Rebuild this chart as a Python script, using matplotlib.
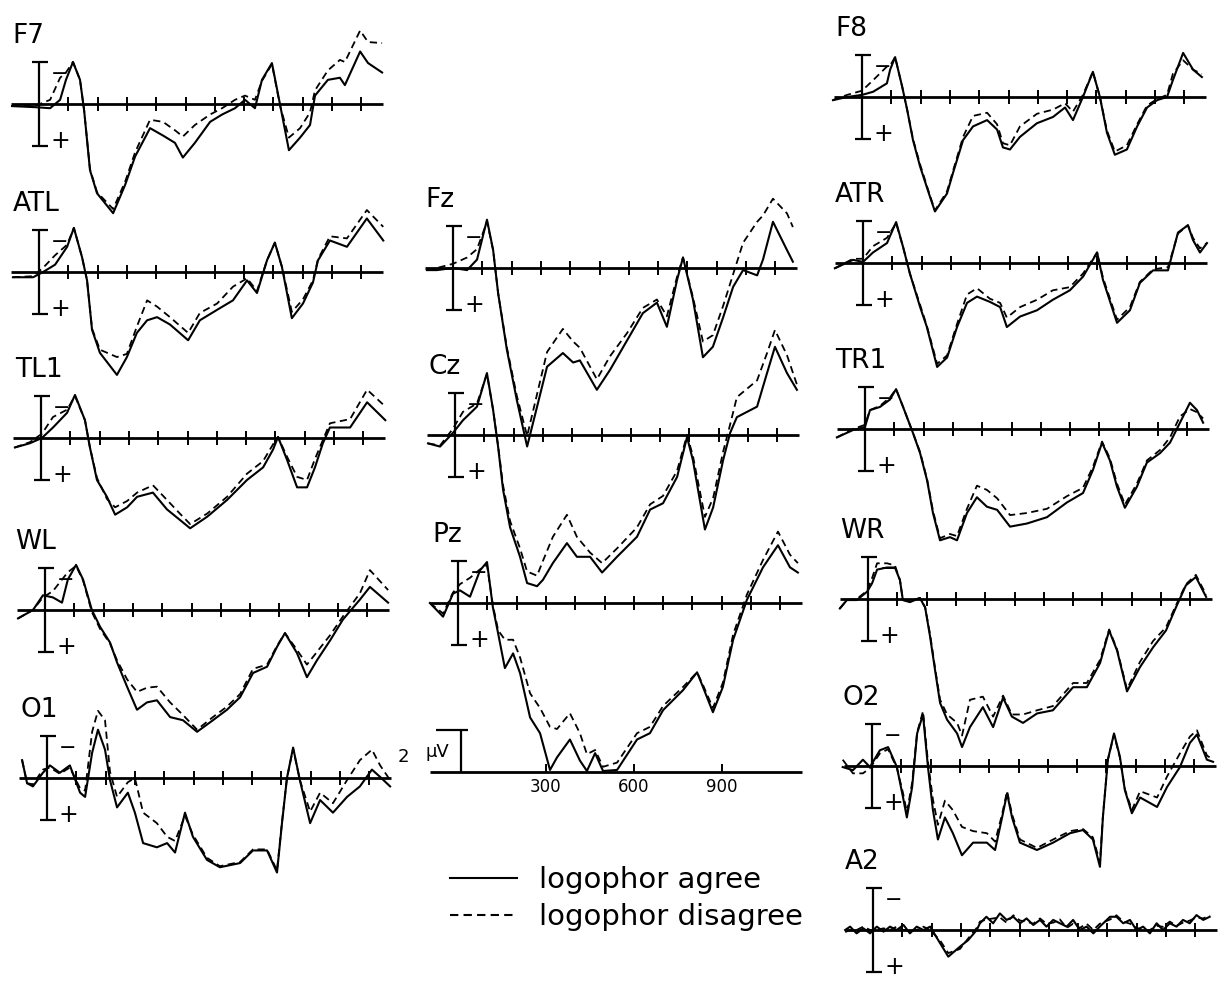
import matplotlib
matplotlib.use("Agg")
import matplotlib.pyplot as plt
from matplotlib.lines import Line2D

# figure geometry (pixels) and the common ERP scale
W, H = 1219, 981
PX_PER_MS = 0.293
PX_PER_UV = 21.0
T_MIN, T_MAX = -100, 1180
V_TOP, V_BOTTOM = -6.5, 9.5          # negative is plotted up
AXIS_START, AXIS_END = -95, 1175

tick_times = [100, 200, 300, 400, 500, 600, 700, 800, 900, 1000, 1100]
scale_ticks = [300, 600, 900]
scale_labels = ["300", "600", "900"]
legend_labels = ["logophor agree", "logophor disagree"]

# ---- left column ----
F7_t = [-92, -14, 38, 72, 92, 116, 140, 154, 174, 198, 253, 294, 328, 379, 423, 464, 491, 532,
        584, 625, 669, 703, 737, 761, 795, 823, 853, 891, 925, 942, 986, 1027, 1044, 1096, 1123, 1171]
F7_agree = [0.1, 0.15, 0.2, -0.2, -1.15, -2.0, -1.15, 0.3, 3.15, 4.25, 5.2, 3.85, 2.5, 1.15, 1.5, 1.85,
            2.55, 1.85, 0.85, 0.5, 0.2, -0.2, 0.2, -1.15, -1.95, 0.05, 2.2, 1.6, 1.0, -0.4, -1.15, -1.25,
            -0.9, -2.5, -1.95, -1.5]
F7_disagree = [0.1, 0.1, -0.2, -1.25, -1.5, -2.0, -1.15, 0.3, 3.1, 4.2, 5.0, 3.7, 2.3, 0.75, 0.85, 1.25,
               1.55, 1.0, 0.5, 0.2, -0.2, -0.4, -0.2, -1.1, -1.9, 0.1, 1.6, 1.15, 0.4, -0.65, -1.6, -2.1,
               -2.0, -3.5, -2.95, -2.9]

ATL_t = [-89, -20, 14, 55, 96, 119, 147, 164, 181, 208, 266, 300, 334, 369, 403, 447, 509, 549, 608,
         662, 710, 744, 778, 805, 829, 863, 901, 935, 952, 993, 1051, 1119, 1175]
ATL_agree = [0.25, 0.25, 0, -0.35, -1.2, -2.1, -0.7, 0.4, 2.75, 3.85, 4.9, 4.05, 2.9, 2.3, 2.15, 2.5,
             3.25, 2.3, 1.8, 1.35, 0.4, 1.0, -0.55, -1.4, -0.25, 2.2, 1.5, 0.5, -0.55, -1.5, -1.2, -2.55, -1.5]
ATL_disagree = [0.25, 0.2, -0.2, -0.8, -1.3, -2.1, -0.7, 0.4, 2.7, 3.7, 4.05, 3.9, 2.6, 1.35, 1.65, 2.15,
                2.9, 1.95, 1.5, 0.7, 0.3, 0.9, -0.55, -1.4, -0.25, 1.9, 1.3, 0.4, -0.6, -1.7, -1.6, -2.95, -2.15]

TL1_t = [-89, -38, 3, 41, 89, 116, 150, 167, 191, 225, 253, 294, 328, 382, 430, 474, 509, 567, 635,
         703, 758, 792, 809, 840, 874, 908, 935, 962, 986, 1055, 1113, 1175]
TL1_agree = [0.45, 0.25, 0, -0.5, -1.2, -2.05, -0.85, 0.45, 2.0, 2.8, 3.65, 3.3, 2.8, 2.6, 3.4, 3.9,
             4.3, 3.75, 2.95, 2.0, 1.4, 0.55, -0.05, 1.05, 2.35, 2.35, 1.4, 0.25, -0.5, -0.5, -1.7, -0.85]
TL1_disagree = [0.45, 0.2, -0.2, -1.0, -1.35, -2.0, -0.85, 0.45, 1.9, 2.9, 3.3, 3.0, 2.6, 2.25, 2.95, 3.6,
                4.1, 3.6, 2.8, 1.7, 1.1, 0.3, -0.05, 0.9, 1.85, 2.0, 1.0, 0.1, -0.7, -0.9, -2.3, -1.5]

WL_t = [-92, -41, -7, 27, 58, 78, 106, 130, 160, 188, 222, 246, 280, 314, 348, 382, 427, 471, 519,
        573, 621, 666, 710, 758, 792, 819, 860, 894, 928, 973, 1017, 1075, 1109, 1171]
WL_agree = [0.4, 0, -0.7, -0.6, -0.35, -1.45, -2.15, -1.45, 0, 0.8, 1.55, 2.5, 3.65, 4.75, 4.4, 4.3,
            5.1, 5.25, 5.8, 5.25, 4.75, 4.15, 3.0, 2.7, 1.75, 1.1, 2.05, 3.2, 2.4, 1.45, 0.45, -0.5, -1.1, -0.35]
WL_disagree = [0.4, 0, -0.6, -0.9, -1.45, -1.8, -2.1, -1.4, 0.1, 0.9, 1.6, 2.4, 3.3, 3.9, 3.7, 3.65,
               4.4, 5.0, 5.7, 5.1, 4.6, 4.0, 2.8, 2.6, 1.7, 1.1, 1.9, 2.6, 2.0, 1.2, 0.3, -0.8, -1.9, -0.95]

O1_t = [-85, -68, -48, -14, 10, 44, 78, 113, 130, 154, 174, 198, 215, 239, 276, 300, 328, 375, 410,
        437, 471, 498, 546, 590, 659, 703, 751, 785, 802, 819, 840, 863, 898, 932, 976, 1024, 1068,
        1109, 1137, 1171]
O1_agree = [-0.85, 0.25, 0.4, -0.25, -0.6, -0.25, -0.6, 0.7, 0.9, -1.2, -2.3, -1.35, 0.1, 1.4, 0.7,
            1.65, 3.1, 3.3, 3.1, 3.55, 1.65, 2.8, 3.9, 4.25, 4.05, 3.45, 3.45, 4.5, 2.15, 0, -1.45, 0.1,
            2.15, 1.05, 1.65, 0.9, 0.4, -0.4, -0.05, 0.4]
O1_disagree = [-0.85, 0.25, 0.3, -0.4, -0.5, -0.2, -0.5, 0.5, 0.6, -2.2, -3.2, -2.75, -0.3, 0.9, 0.2,
               0.0, 1.65, 2.15, 2.8, 3.0, 1.8, 2.7, 3.8, 4.2, 4.0, 3.4, 3.4, 4.4, 2.1, 0, -1.4, 0.1,
               1.6, 0.7, 1.2, 0.1, -0.85, -1.35, -0.6, 0.1]

# ---- middle column ----
Fz_t = [-89, -55, 0, 48, 82, 116, 137, 154, 184, 218, 253, 287, 321, 375, 410, 433, 491, 536, 594,
        648, 696, 730, 765, 785, 819, 853, 887, 922, 956, 990, 1038, 1058, 1092, 1140, 1160]
Fz_agree = [0.1, 0.1, 0, 0.1, -0.4, -2.3, -0.85, 1.2, 3.9, 6.3, 8.5, 6.6, 4.7, 4.05, 4.5, 4.4, 5.8,
            4.85, 3.45, 2.15, 1.65, 2.8, 0.55, -0.5, 1.5, 4.25, 3.75, 2.35, 0.9, 0.1, 0.35, -0.4, -2.2, -0.85, -0.3]
Fz_disagree = [0.1, 0.0, -0.2, -0.5, -0.9, -2.2, -0.85, 1.2, 3.8, 6.1, 8.0, 6.0, 4.0, 2.9, 3.5, 3.8, 5.3,
               4.2, 3.1, 1.9, 1.5, 2.3, 0.4, -0.5, 1.4, 3.5, 3.2, 1.8, 0.3, -1.2, -2.2, -2.5, -3.3, -2.6, -1.95]

Cz_t = [-92, -51, -7, 27, 75, 109, 130, 147, 164, 188, 222, 246, 280, 300, 334, 382, 416, 461, 502,
        553, 621, 666, 710, 758, 792, 812, 853, 881, 915, 939, 962, 1031, 1065, 1092, 1133, 1167]
Cz_agree = [0.4, 0.55, -0.1, -0.7, -1.35, -2.95, -1.2, 0.55, 2.6, 4.4, 5.8, 7.05, 7.2, 6.9, 6.1, 5.15,
            5.8, 5.8, 6.55, 5.8, 4.85, 3.55, 3.25, 2.0, 0.1, 1.2, 4.5, 3.45, 1.2, -0.1, -0.85, -1.35,
            -2.95, -4.2, -2.95, -2.15]
Cz_disagree = [0.4, 0.5, -0.3, -1.1, -1.5, -2.9, -1.2, 0.5, 2.4, 4.1, 5.4, 6.5, 6.7, 6.0, 4.85, 3.8,
               4.85, 5.6, 6.1, 5.4, 4.4, 3.3, 2.9, 1.7, 0.0, 1.0, 3.9, 3.0, 0.8, -0.5, -1.8, -2.6,
               -3.9, -5.0, -3.8, -2.4]

Pz_t = [-96, -51, -17, 7, 41, 75, 99, 119, 137, 160, 188, 212, 246, 280, 314, 338, 382, 416, 440,
        468, 495, 543, 611, 655, 700, 768, 816, 836, 870, 904, 939, 986, 1041, 1092, 1133, 1160]
Pz_agree = [0, 0.65, -0.45, -0.6, -0.3, -1.55, -1.95, 0.2, 1.45, 3.1, 2.4, 3.35, 5.45, 6.2, 7.95, 7.35,
            6.5, 7.5, 8.0, 7.15, 8.0, 7.95, 6.5, 6.2, 5.1, 4.15, 3.3, 4.0, 5.2, 4.0, 1.75, -0.15, -1.7,
            -2.75, -1.7, -1.45]
Pz_disagree = [0, 0.5, -0.5, -0.9, -1.2, -1.6, -1.8, 0.1, 1.3, 1.75, 1.75, 2.6, 4.3, 5.0, 5.9, 6.0,
               5.25, 6.2, 7.2, 7.0, 7.8, 7.6, 6.2, 5.9, 4.9, 4.0, 3.3, 3.9, 5.0, 3.8, 1.5, -0.4, -2.05,
               -3.4, -2.3, -1.9]

# ---- right column ----
F8_t = [-99, -51, 0, 38, 85, 96, 113, 137, 154, 174, 198, 232, 249, 290, 311, 345, 379, 427, 461, 481,
        505, 539, 597, 652, 693, 720, 754, 788, 812, 836, 863, 904, 939, 973, 1007, 1041, 1061, 1096,
        1130, 1160]
F8_agree = [0.15, 0, -0.1, -0.25, -0.65, -1.3, -1.9, -0.5, 0.6, 2.05, 3.3, 4.75, 5.45, 4.6, 3.6, 2.05,
            1.4, 1.1, 1.55, 2.4, 2.5, 1.9, 1.25, 0.95, 0.5, 1.1, 0, -1.2, 0, 1.7, 2.75, 2.5, 1.4, 0.5,
            0.15, 0, -0.8, -2.1, -1.3, -0.95]
F8_disagree = [0.15, -0.1, -0.3, -0.8, -1.45, -1.5, -1.9, -0.5, 0.6, 2.0, 3.2, 4.7, 5.4, 4.5, 3.5, 1.9,
               0.9, 0.75, 1.3, 2.2, 2.3, 1.4, 0.8, 0.6, 0.3, 0.7, -0.1, -1.2, 0, 1.6, 2.6, 2.3, 1.3, 0.4,
               0.1, -0.1, -1.1, -1.75, -1.3, -1.1]

ATR_t = [-96, -34, 0, 34, 82, 113, 137, 160, 195, 218, 253, 287, 321, 355, 389, 433, 468, 491, 536,
         594, 648, 706, 751, 799, 819, 867, 911, 945, 990, 1041, 1075, 1109, 1126, 1150, 1174]
ATR_agree = [0.25, -0.15, -0.05, -0.5, -0.95, -1.95, -0.75, 0.5, 2.1, 3.05, 4.95, 4.5, 3.05, 1.9, 1.6,
             1.85, 2.1, 3.05, 2.55, 2.25, 1.75, 1.3, 0.65, -0.5, 0.8, 2.85, 2.25, 0.95, 0.35, 0.35,
             -1.45, -1.8, -1.1, -0.5, -0.95]
ATR_disagree = [0.25, -0.2, -0.2, -0.8, -1.2, -1.9, -0.75, 0.5, 2.0, 3.0, 4.8, 4.4, 2.9, 1.5, 1.2,
                1.7, 1.9, 2.6, 2.1, 1.75, 1.3, 1.15, 0.5, -0.5, 0.7, 2.7, 2.1, 0.9, 0.3, 0.2,
                -1.4, -1.8, -1.2, -0.7, -0.95]

TR1_t = [-96, -41, 0, 17, 51, 85, 106, 130, 164, 188, 212, 232, 256, 290, 314, 348, 382, 416, 451,
         495, 553, 621, 689, 744, 778, 809, 836, 860, 887, 928, 962, 1007, 1041, 1075, 1109, 1133, 1154]
TR1_agree = [0.4, 0.05, -0.1, -0.9, -1.05, -1.4, -1.9, -1.05, 0.2, 1.15, 2.45, 4.0, 5.3, 5.15, 5.3,
             4.0, 3.25, 3.7, 3.85, 4.65, 4.5, 4.2, 3.5, 3.05, 1.95, 0.65, 1.5, 2.75, 3.75, 2.75, 1.6,
             1.15, 0.65, -0.3, -1.25, -0.9, -0.3]
TR1_disagree = [0.4, 0.0, -0.2, -0.9, -1.1, -1.5, -1.9, -1.05, 0.2, 1.1, 2.4, 3.9, 5.2, 5.0, 5.1,
                3.8, 2.7, 2.9, 3.3, 4.1, 4.0, 3.8, 3.2, 2.8, 1.8, 0.6, 1.4, 2.6, 3.6, 2.6, 1.5,
                1.0, 0.4, -0.6, -0.95, -0.8, -0.5]

WR_t = [-96, -72, -38, -3, 14, 31, 65, 92, 109, 119, 143, 177, 195, 212, 229, 246, 270, 304, 321, 348,
        392, 427, 461, 491, 529, 577, 631, 700, 747, 792, 823, 850, 884, 928, 973, 1017, 1051, 1085,
        1119, 1154]
WR_agree = [0.45, 0.05, 0.05, -0.35, -0.75, -1.4, -1.5, -1.5, -0.9, 0.05, 0.15, -0.05, 0.4, 1.8, 3.4,
            4.95, 5.75, 6.4, 7.05, 6.1, 5.15, 6.1, 4.7, 5.6, 5.9, 5.45, 5.3, 4.2, 4.2, 3.05, 1.5, 2.45,
            4.4, 3.25, 2.3, 1.5, 0.4, -0.65, -1.05, -0.1]
WR_disagree = [0.45, 0.05, 0.0, -0.4, -1.0, -1.7, -1.7, -1.6, -0.9, 0.05, 0.1, -0.05, 0.4, 1.7, 3.3,
               4.8, 5.5, 5.9, 6.5, 4.8, 4.65, 5.6, 4.6, 5.5, 5.5, 5.3, 5.1, 4.0, 4.0, 2.9, 1.45, 2.4,
               4.3, 3.0, 2.0, 1.35, 0.3, -0.7, -1.15, -0.2]

O2_t = [-100, -65, -31, -7, 27, 55, 85, 106, 119, 137, 154, 174, 191, 208, 225, 249, 276, 307, 345,
        392, 420, 444, 461, 478, 505, 563, 618, 676, 720, 754, 778, 788, 805, 826, 846, 863, 887, 915,
        973, 1007, 1051, 1085, 1109, 1143, 1164]
O2_agree = [0.05, 0.2, -0.3, 0.05, -0.75, -0.9, 0.05, 1.5, 2.45, 1.0, -1.55, -2.45, 0.05, 2.1, 3.5,
            2.45, 3.2, 4.25, 3.65, 3.65, 4.0, 2.45, 1.3, 2.45, 3.65, 4.0, 3.65, 3.2, 3.05, 3.5, 4.8,
            2.45, -0.3, -1.55, -0.45, 1.15, 2.25, 1.5, 1.95, 1.0, 0.05, -1.1, -1.5, -0.3, -0.2]
O2_disagree = [-0.3, 0.35, 0.35, 0.1, -0.6, -0.8, 0.1, 1.3, 2.2, 0.8, -1.6, -2.6, -0.2, 1.6, 2.8,
               1.65, 2.1, 2.9, 3.1, 3.2, 3.6, 2.3, 1.2, 2.3, 3.5, 3.9, 3.5, 3.1, 3.0, 3.4, 4.6,
               2.4, -0.3, -1.5, -0.4, 1.1, 2.1, 1.2, 1.5, 0.5, -0.6, -1.4, -1.7, -0.5, -0.3]

A2_t = [-95, -78, -56, -33, -10, 13, 36, 58, 81, 104, 126, 149, 172, 195, 229, 257, 297, 325, 354, 365,
        387, 410, 433, 456, 479, 502, 524, 547, 570, 592, 615, 638, 661, 683, 706, 729, 752, 774, 809,
        831, 854, 877, 899, 922, 945, 968, 990, 1013, 1036, 1058, 1081, 1104, 1127, 1149]
A2_agree = [0, -0.16, 0.16, -0.08, 0.16, -0.16, 0.08, -0.16, 0, -0.24, 0.16, -0.16, 0, -0.16, 0.63,
            1.27, 0.79, 0.48, 0, -0.32, -0.63, -0.32, -0.79, -0.48, -0.63, -0.32, -0.55, -0.24, -0.48,
            -0.16, -0.48, -0.32, -0.16, -0.48, 0, -0.16, 0.16, -0.16, -0.63, -0.63, -0.32, -0.48, 0,
            -0.16, 0.16, -0.32, 0, -0.32, -0.16, -0.48, -0.32, -0.71, -0.48, -0.63]
A2_disagree = [0.1, 0, 0, -0.16, 0, 0, -0.08, 0, -0.16, 0, 0, 0, -0.16, 0, 0.5, 1.1, 0.9, 0.4, -0.1,
               -0.4, -0.5, -0.55, -0.6, -0.35, -0.7, -0.45, -0.4, -0.3, -0.55, -0.3, -0.35, -0.5, -0.1,
               -0.3, -0.1, -0.3, 0, -0.3, -0.5, -0.7, -0.4, -0.3, -0.1, 0, 0, -0.2, -0.15, -0.4, -0.2,
               -0.35, -0.45, -0.6, -0.55, -0.7]

# layout: name, x of time zero (px), y of baseline (px), x of the label (px)
channels = [
    ("F7", 39, 104, 12, F7_t, F7_agree, F7_disagree),
    ("ATL", 39, 272, 13, ATL_t, ATL_agree, ATL_disagree),
    ("TL1", 41, 438, 15, TL1_t, TL1_agree, TL1_disagree),
    ("WL", 45, 610, 15, WL_t, WL_agree, WL_disagree),
    ("O1", 47, 778, 20, O1_t, O1_agree, O1_disagree),
    ("Fz", 453, 268, 425, Fz_t, Fz_agree, Fz_disagree),
    ("Cz", 455, 435, 428, Cz_t, Cz_agree, Cz_disagree),
    ("Pz", 458, 603, 432, Pz_t, Pz_agree, Pz_disagree),
    ("F8", 862, 97, 835, F8_t, F8_agree, F8_disagree),
    ("ATR", 863, 263, 835, ATR_t, ATR_agree, ATR_disagree),
    ("TR1", 865, 429, 835, TR1_t, TR1_agree, TR1_disagree),
    ("WR", 868, 599, 840, WR_t, WR_agree, WR_disagree),
    ("O2", 872, 766, 842, O2_t, O2_agree, O2_disagree),
    ("A2", 873, 930, 845, A2_t, A2_agree, A2_disagree),
]

LW_TRACE = 1.5
DASH = (0, (4, 2.5))


def channel_axes(fig, x0, base):
    left = x0 + T_MIN * PX_PER_MS
    width = (T_MAX - T_MIN) * PX_PER_MS
    top = base + V_TOP * PX_PER_UV
    height = (V_BOTTOM - V_TOP) * PX_PER_UV
    ax = fig.add_axes([left / W, 1 - (top + height) / H, width / W, height / H])
    ax.set_xlim(T_MIN, T_MAX)
    ax.set_ylim(V_BOTTOM, V_TOP)
    ax.axis("off")
    return ax


fig = plt.figure(figsize=(W / 100, H / 100), dpi=100)
fig.patch.set_facecolor("white")

for name, x0, base, lab_x, t, agree, disagree in channels:
    ax = channel_axes(fig, x0, base)
    ax.plot([AXIS_START, AXIS_END], [0, 0], color="black", lw=2.0, solid_capstyle="butt")
    ax.vlines(tick_times, -0.32, 0.32, color="black", lw=1.4)
    # calibration bar, +/-2 uV
    ax.vlines(0, -2, 2, color="black", lw=1.6)
    ax.hlines([-2, 2], -25, 30, color="black", lw=1.6)
    ax.text(70, -1.45, "\u2212", fontsize=15, ha="center", va="center")
    ax.text(72, 1.75, "+", fontsize=17, ha="center", va="center")
    ax.plot(t, disagree, color="black", lw=1.3, ls=DASH, clip_on=False)
    ax.plot(t, agree, color="black", lw=LW_TRACE, clip_on=False)
    fig.text(lab_x / W, 1 - (base - 61) / H, name, fontsize=19, ha="left", va="baseline")

# voltage / time scale under Pz
sc = channel_axes(fig, 458, 772)
sc.plot([AXIS_START, AXIS_END], [0, 0], color="black", lw=2.0, solid_capstyle="butt")
sc.vlines(scale_ticks, -0.4, 0, color="black", lw=1.4)
sc.vlines(10, -2, 0, color="black", lw=1.6)
sc.hlines(-2, -75, 35, color="black", lw=1.6)
for tt, lab in zip(scale_ticks, scale_labels):
    sc.text(tt, 0.3, lab, fontsize=12, ha="center", va="top")
sc.text(-188, -0.7, "2", fontsize=13, ha="center", va="center", clip_on=False)
sc.text(-72, -0.95, "\u00b5V", fontsize=13, ha="center", va="center", clip_on=False)

handles = [Line2D([], [], color="black", lw=LW_TRACE),
           Line2D([], [], color="black", lw=1.5, ls=DASH)]
fig.legend(handles, legend_labels, loc="upper left", bbox_to_anchor=(450 / W, 1 - 866 / H),
           frameon=False, fontsize=21, handlelength=2.3, handletextpad=0.75,
           labelspacing=0.3, borderpad=0, borderaxespad=0)

fig.savefig("out.png", dpi=100, facecolor="white")
